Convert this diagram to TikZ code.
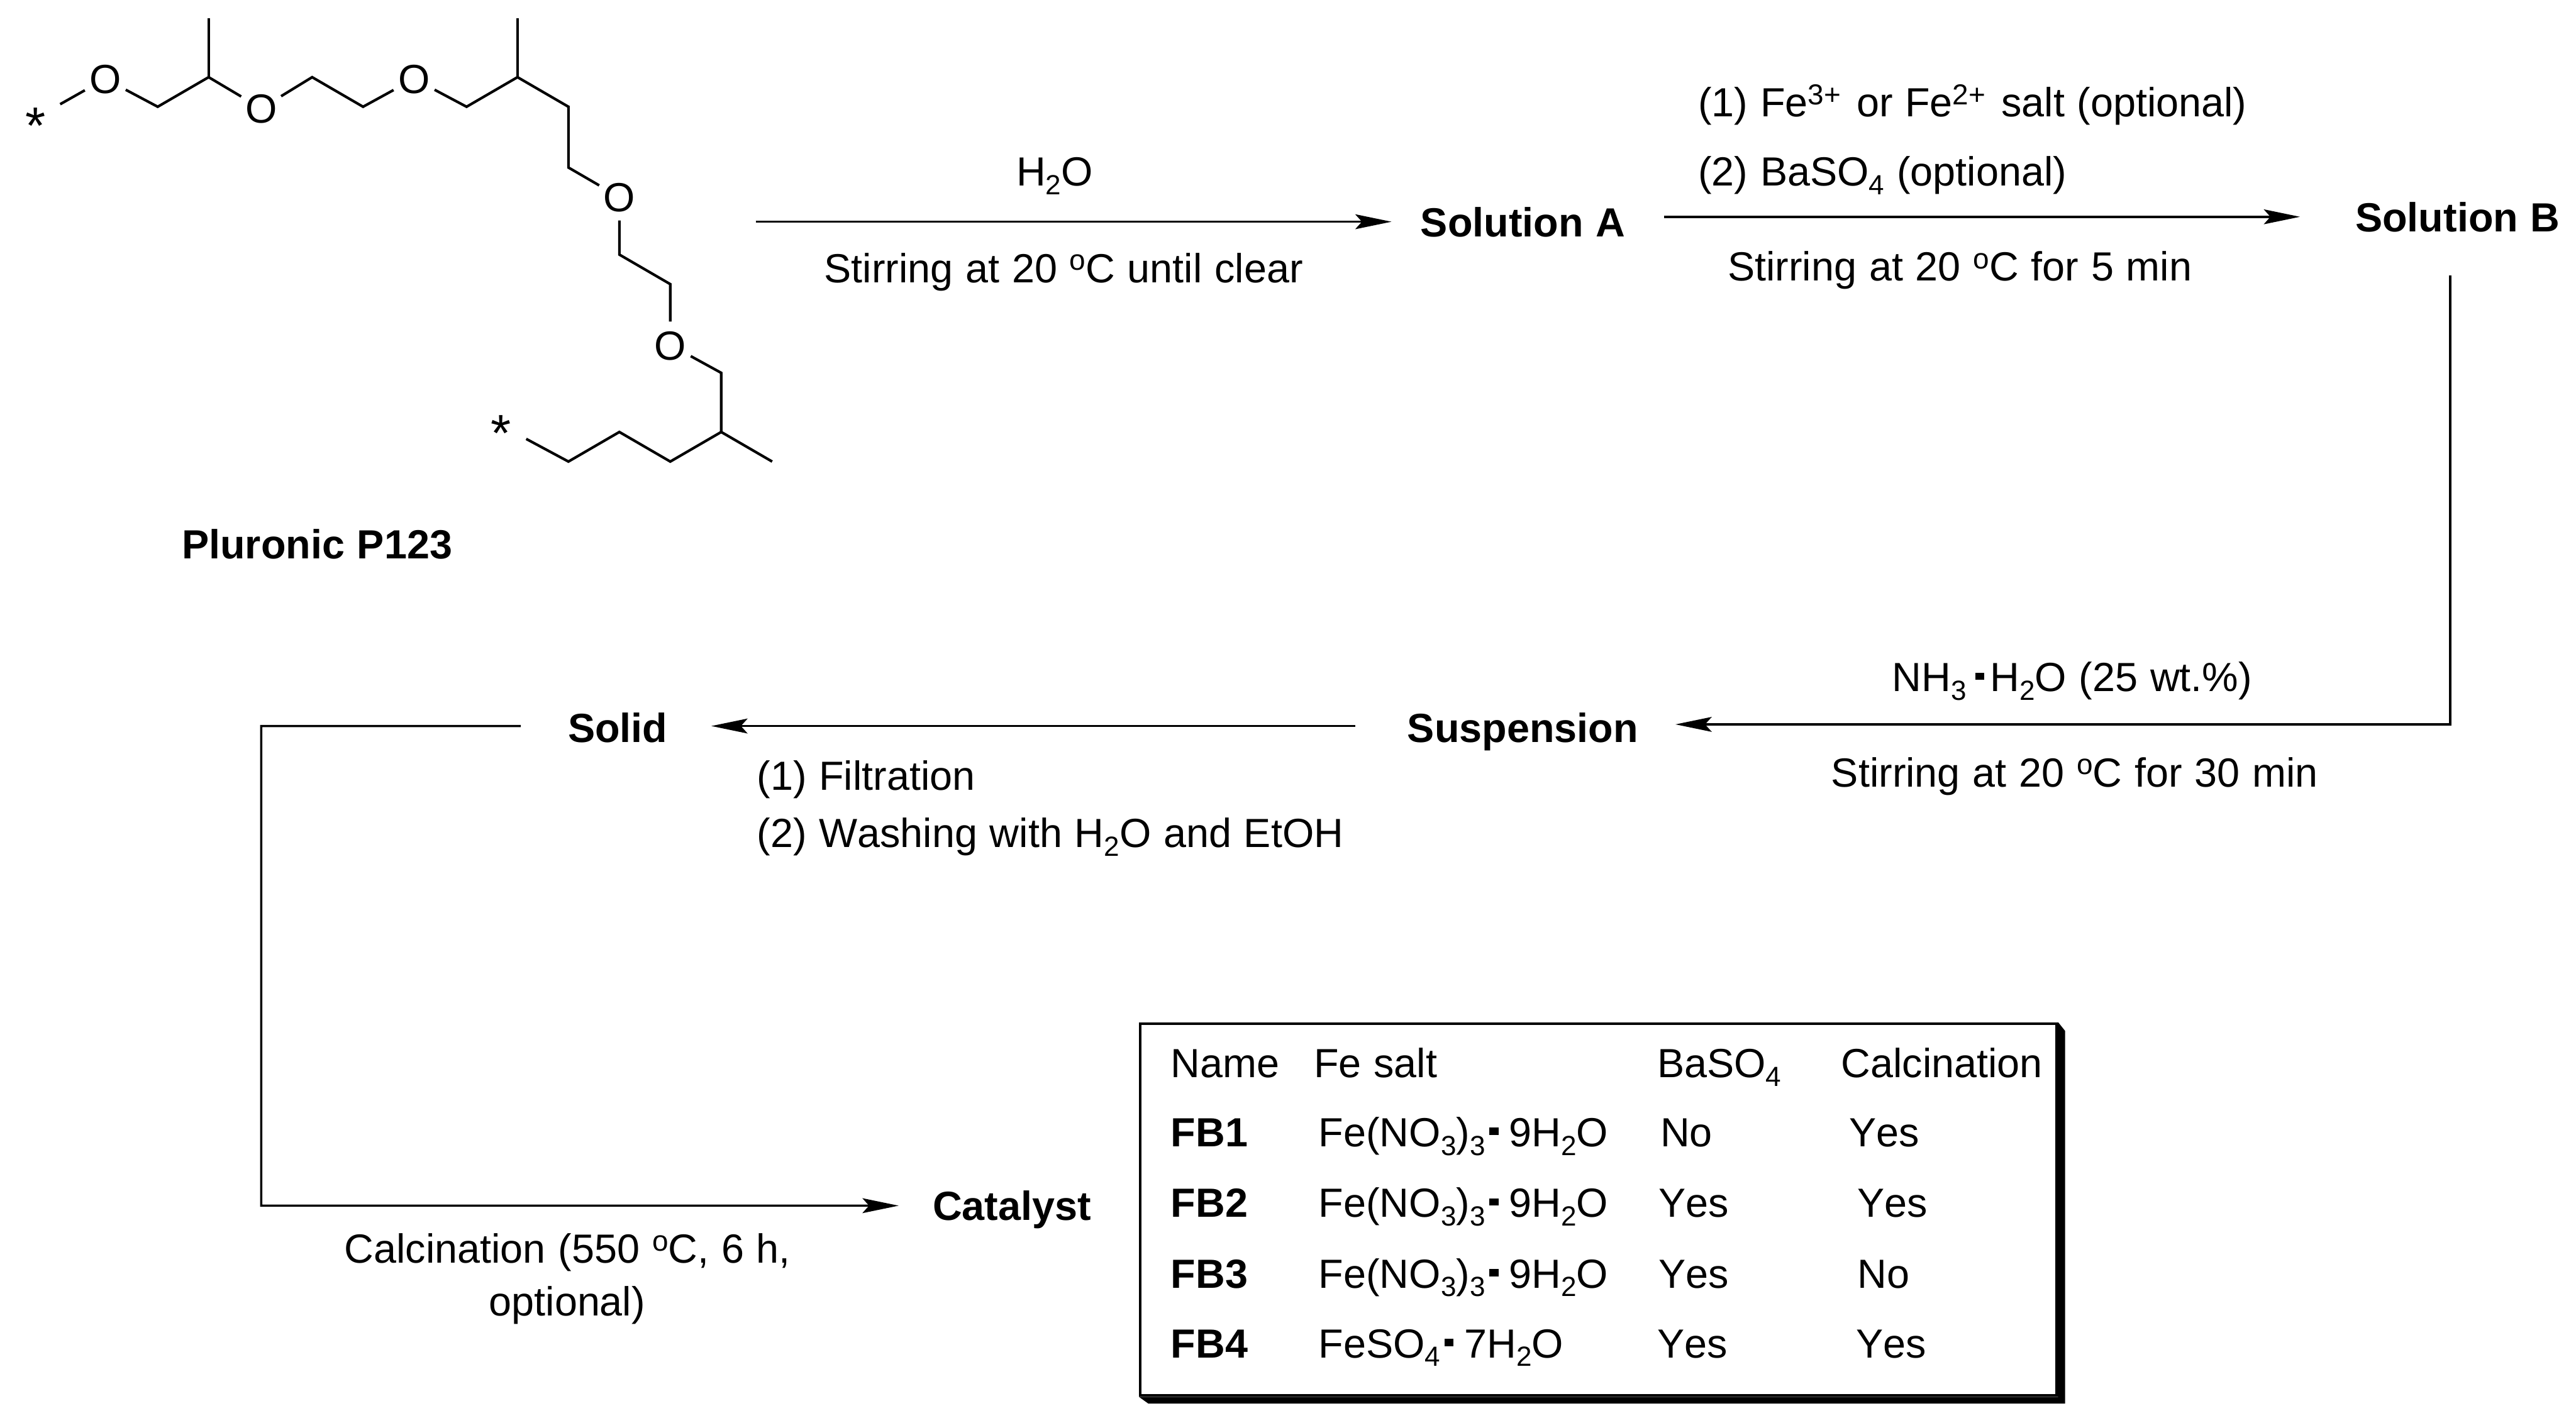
\documentclass[tikz,border=0pt]{standalone}
\usepackage{fontspec}
\setmainfont[Kerning=Off,WordSpace=1.1]{Liberation Sans}
\usepackage{tikz}
\newcommand{\labelsize}{\fontsize{7.05}{8.4}\selectfont}
\newcommand{\chemlow}[1]{\raisebox{-0.053cm}{\fontsize{4.8}{5}\selectfont #1}}
\newcommand{\chemhigh}[1]{\raisebox{0.074cm}{\fontsize{5}{5}\selectfont #1}}
\newcommand{\chemdot}{\kern0.025cm\raisebox{0.07cm}{\rule{0.055cm}{0.045cm}}\kern0.065cm}
\newcommand{\fenine}{Fe(NO\chemlow{3})\chemlow{3}\chemdot 9H\chemlow{2}O}
\newcommand{\fesev}{FeSO\chemlow{4}\chemdot 7H\chemlow{2}O}
\tikzset{
	txt/.style={anchor=base west, inner sep=0pt},
	stage/.style={anchor=base west, inner sep=0pt, font=\labelsize\bfseries, text height=0.18cm, text depth=0cm},
	atom/.style={circle, inner sep=0pt, minimum size=0.27cm, text height=0.18cm, text depth=0cm},
	chainend/.style={circle, inner sep=0pt, font=\fontsize{9}{10}\selectfont, text height=0.31cm, text depth=0cm},
	bond/.style={line width=0.45pt, line join=miter},
	rxn/.style={line width=0.4pt, -{Stealth[length=0.22cm,width=0.09cm,inset=0.04cm]}}
}
\usetikzlibrary{arrows.meta}

\begin{document}
\begin{tikzpicture}
		\tikzstyle{every node}=[font=\labelsize]
		\useasboundingbox (0,0) rectangle (15.68,8.66);

		% Polymer chain
		\node[atom] (o1) at (0.64,8.18) {O};
		\node[atom] (o2) at (1.59,8.00) {O};
		\node[atom] (o3) at (2.52,8.18) {O};
		\node[atom] (o4) at (3.77,7.46) {O};
		\node[atom] (o5) at (4.08,6.56) {O};
		\node[chainend] (star1) at (0.215,7.94) {*};
		\node[chainend] (star2) at (3.05,6.07) {*};

		\coordinate (c1) at (0.96,8.01);
		\coordinate (c2) at (1.27,8.19);
		\coordinate (c3) at (1.90,8.19);
		\coordinate (c4) at (2.21,8.01);
		\coordinate (c5) at (2.84,8.01);
		\coordinate (c6) at (3.15,8.19);
		\coordinate (c7) at (3.46,8.01);
		\coordinate (c8) at (3.46,7.64);
		\coordinate (c9) at (3.77,7.11);
		\coordinate (c10) at (4.08,6.93);
		\coordinate (c11) at (4.39,6.39);
		\coordinate (c12) at (4.39,6.03);
		\coordinate (c13) at (4.08,5.85);
		\coordinate (c14) at (3.77,6.03);
		\coordinate (c15) at (3.46,5.85);

		\draw[bond] (star1) -- (o1) -- (c1) -- (c2) -- (o2) -- (c3) -- (c4) -- (o3) -- (c5) -- (c6) -- (c7) -- (c8) -- (o4);
		\draw[bond] (o4) -- (c9) -- (c10) -- (o5) -- (c11) -- (c12) -- (c13) -- (c14) -- (c15) -- (star2);
		\draw[bond] (c2) -- (1.27,8.55); % methyl groups
		\draw[bond] (c6) -- (3.15,8.55);
		\draw[bond] (c12) -- (4.70,5.85);

		\node[stage] (p123) at (1.10,5.26) {Pluronic P123};

		% -----------------------------------------------------
		% Stages
		\node[stage] (solA) at (8.64,7.22) {Solution A};
		\node[stage] (solB) at (14.33,7.25) {Solution B};
		\node[stage] (susp) at (8.56,4.14) {Suspension};
		\node[stage] (solid) at (3.45,4.14) {Solid};
		\node[stage] (cat) at (5.67,1.23) {Catalyst};

		\coordinate (mixstart) at (4.60,7.31);
		\coordinate (calcturn) at (1.59,1.32);

		\draw[rxn] (mixstart) -- ([xshift=-0.17cm]solA.west);
		\draw[rxn] ([shift={(0.23,0.03)}]solA.east) -- ([xshift=-0.33cm]solB.west);
		\draw[rxn] ([shift={(-0.045,-0.26)}]solB.south) |- ([shift={(0.22,0.02)}]susp.east);
		\draw[rxn] ([shift={(-0.31,0.01)}]susp.west) -- ([shift={(0.26,0.01)}]solid.east);
		\draw[rxn] ([shift={(-0.28,0.01)}]solid.west) -| (calcturn) -- ([xshift=-0.20cm]cat.west);

		% Conditions
		\node[txt] (water) at (6.18,7.53) {H\chemlow{2}O};
		\node[txt] (stirA) at (5.01,6.94) {Stirring at 20 \chemhigh{o}C until clear};
		\node[txt] (feadd) at (10.33,7.95) {(1) Fe\chemhigh{3+}\kern0.02cm{} or Fe\chemhigh{2+}\kern0.02cm{} salt (optional)};
		\node[txt] (baadd) at (10.33,7.53) {(2) BaSO\chemlow{4} (optional)};
		\node[txt] (stirB) at (10.51,6.95) {Stirring at 20 \chemhigh{o}C for 5 min};
		\node[txt] (ammonia) at (11.51,4.45) {NH\chemlow{3}\kern0.03cm\chemdot\kern-0.03cm H\chemlow{2}O (25 wt.\%)};
		\node[txt] (stirC) at (11.14,3.87) {Stirring at 20 \chemhigh{o}C for 30 min};
		\node[txt] (filt) at (4.60,3.85) {(1) Filtration};
		\node[txt] (wash) at (4.60,3.50) {(2) Washing with H\chemlow{2}O and EtOH};
		\node[txt] (calcA) at (2.09,0.97) {Calcination (550 \chemhigh{o}C, 6 h,};
		\node[txt] (calcB) at (2.97,0.65) {optional)};

		% -----------------------------------------------------
		% Table with shadow
		\node[draw, line width=0.5pt, anchor=north west, inner sep=0pt, minimum width=5.578cm, minimum height=2.263cm] (saltbox) at (6.932,2.437) {};
		\fill[black] (saltbox.north east) -- (12.57,2.384) -- (12.57,0.115) -- (6.99,0.115) -- (saltbox.south west) -- (saltbox.south east) -- cycle;

		\node[txt] (headname) at (7.12,2.10) {Name};
		\node[txt] (headsalt) at (7.99,2.10) {Fe salt};
		\node[txt] (headba) at (10.08,2.10) {BaSO\chemlow{4}};
		\node[txt] (headcal) at (11.20,2.10) {Calcination};

		\foreach \row/\y/\salt/\ba/\bx/\cal/\cx in {1/1.68/{\fenine}/No/10.10/Yes/11.25, 2/1.25/{\fenine}/Yes/10.09/Yes/11.30, 3/0.82/{\fenine}/Yes/10.09/No/11.30, 4/0.395/{\fesev}/Yes/10.08/Yes/11.29}{
			\node[txt, font=\labelsize\bfseries] (fb\row) at (7.12,\y) {FB\row};
			\node[txt] (salt\row) at (8.02,\y) {\salt};
			\node[txt] (ba\row) at (\bx,\y) {\ba};
			\node[txt] (cal\row) at (\cx,\y) {\cal};
		}
\end{tikzpicture}
\end{document}
